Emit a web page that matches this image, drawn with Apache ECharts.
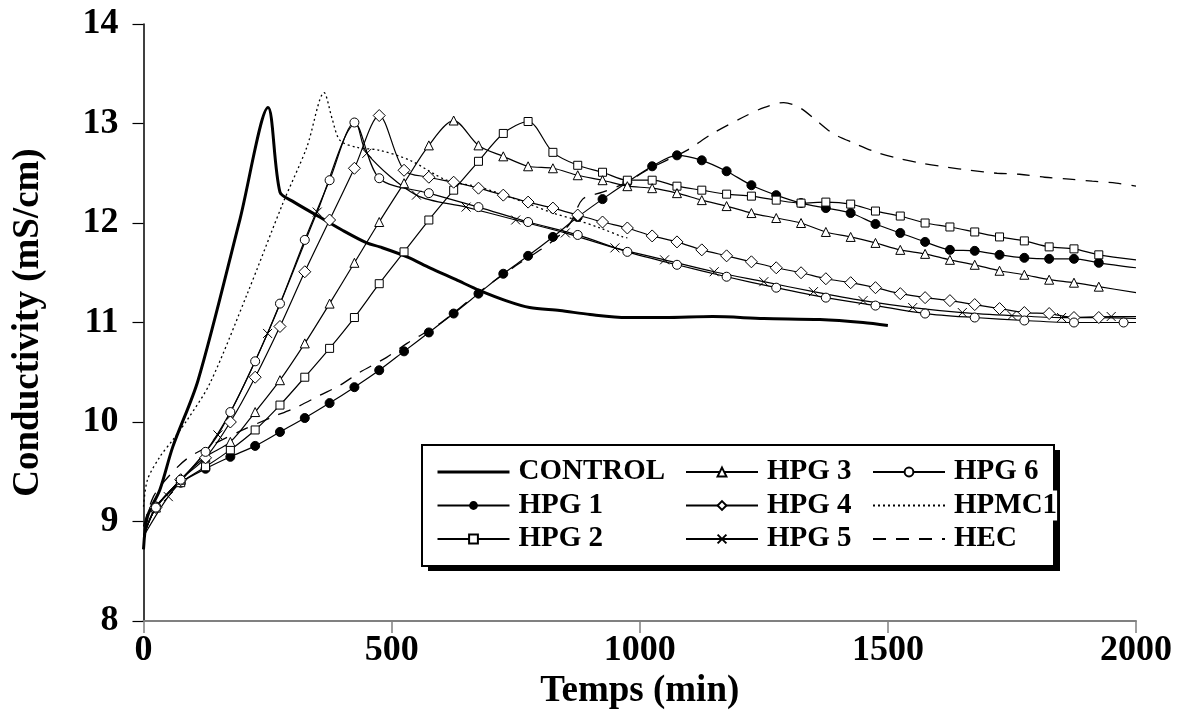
<!DOCTYPE html>
<html><head><meta charset="utf-8">
<script src="https://cdn.jsdelivr.net/npm/echarts@6/dist/echarts.min.js"></script>
<style>html,body{margin:0;padding:0;background:#fff}#c{width:1184px;height:716px}</style>
</head><body><div id="c"></div>
<script>
// ---- data (time in min, conductivity in mS/cm) ----
const xAxisName = 'Temps (min)';
const yAxisName = 'Conductivity (mS/cm)';

const control = [[0,8.72],[8,9.05],[33,9.32],[59,9.75],[110,10.42],[194,12.03],[251,13.16],[275,12.31],[300,12.22],[355,12.06],[400,11.93],[450,11.80],[476,11.76],[531,11.66],[577,11.55],[630,11.43],[678,11.32],[730,11.22],[778,11.15],[839,11.12],[900,11.08],[974,11.05],[1050,11.05],[1147,11.06],[1250,11.04],[1363,11.03],[1450,11.00],[1500,10.97]];

const hpg1Marked = [[25,9.15],[75,9.39],[125,9.53],[175,9.65],[225,9.76],[275,9.90],[325,10.04],[375,10.19],[425,10.35],[475,10.52],[525,10.71],[575,10.90],[625,11.09],[675,11.29],[725,11.49],[775,11.67],[825,11.86],[875,12.06],[925,12.24],[975,12.41],[1025,12.57],[1075,12.68],[1125,12.63],[1175,12.52],[1225,12.38],[1275,12.28],[1325,12.20],[1375,12.15],[1425,12.10],[1475,11.99],[1525,11.90],[1575,11.81],[1625,11.73],[1675,11.72],[1725,11.68],[1775,11.65],[1825,11.64],[1875,11.64],[1925,11.60]];
const hpg1Knots = [[0,8.85],[2000,11.55]];

const hpg2Marked = [[25,9.14],[75,9.39],[125,9.55],[175,9.72],[225,9.92],[275,10.17],[325,10.45],[375,10.74],[425,11.05],[475,11.39],[525,11.71],[575,12.03],[625,12.33],[675,12.62],[725,12.90],[775,13.02],[825,12.71],[875,12.58],[925,12.51],[975,12.43],[1025,12.43],[1075,12.37],[1125,12.33],[1175,12.29],[1225,12.27],[1275,12.23],[1325,12.20],[1375,12.21],[1425,12.19],[1475,12.12],[1525,12.07],[1575,12.00],[1625,11.96],[1675,11.91],[1725,11.86],[1775,11.82],[1825,11.76],[1875,11.74],[1925,11.68]];
const hpg2Knots = [[0,8.85],[2000,11.63]];

const hpg3Marked = [[25,9.14],[75,9.42],[125,9.65],[175,9.80],[225,10.10],[275,10.42],[325,10.79],[375,11.19],[425,11.60],[475,12.01],[525,12.40],[575,12.78],[625,13.03],[675,12.78],[725,12.67],[775,12.57],[825,12.55],[875,12.48],[925,12.43],[975,12.37],[1025,12.35],[1075,12.30],[1125,12.23],[1175,12.17],[1225,12.10],[1275,12.05],[1325,12.00],[1375,11.91],[1425,11.86],[1475,11.80],[1525,11.73],[1575,11.69],[1625,11.63],[1675,11.58],[1725,11.52],[1775,11.48],[1825,11.43],[1875,11.40],[1925,11.36]];
const hpg3Knots = [[0,8.85],[2000,11.30]];

const hpg4Marked = [[25,9.14],[75,9.42],[125,9.64],[175,10.00],[225,10.45],[275,10.96],[325,11.51],[375,12.03],[425,12.55],[475,13.08],[525,12.53],[575,12.46],[625,12.41],[675,12.35],[725,12.28],[775,12.21],[825,12.15],[875,12.08],[925,12.01],[975,11.95],[1025,11.87],[1075,11.81],[1125,11.73],[1175,11.67],[1225,11.61],[1275,11.55],[1325,11.50],[1375,11.44],[1425,11.40],[1475,11.35],[1525,11.29],[1575,11.25],[1625,11.22],[1675,11.18],[1725,11.14],[1775,11.10],[1825,11.09],[1875,11.05],[1925,11.05]];
const hpg4Knots = [[0,8.85],[2000,11.04]];

const hpg5Marked = [[50,9.25],[150,9.87],[250,10.89],[350,12.11],[450,12.70],[550,12.28],[650,12.16],[750,12.03],[850,11.90],[950,11.75],[1050,11.63],[1150,11.51],[1250,11.41],[1350,11.31],[1450,11.22],[1550,11.15],[1650,11.10],[1750,11.07],[1850,11.05],[1950,11.06]];
const hpg5Knots = [[0,8.85],[428,13.00],[2000,11.06]];

const hpg6Marked = [[25,9.14],[75,9.42],[125,9.70],[175,10.10],[225,10.61],[275,11.19],[325,11.83],[375,12.43],[425,13.01],[475,12.45],[575,12.30],[675,12.16],[775,12.01],[875,11.88],[975,11.71],[1075,11.58],[1175,11.46],[1275,11.35],[1375,11.25],[1475,11.17],[1575,11.09],[1675,11.05],[1775,11.02],[1875,11.00],[1975,11.00]];
const hpg6Knots = [[0,8.85],[2000,11.00]];

const hpmc1 = [[0,9.15],[8,9.42],[33,9.65],[59,9.82],[88,10.02],[134,10.39],[210,11.30],[281,12.20],[329,12.76],[364,13.31],[380,13.05],[396,12.83],[430,12.76],[476,12.73],[537,12.63],[611,12.43],[678,12.36],[772,12.20],[825,12.10],[873,12.03],[920,11.95],[966,11.86],[975,11.85]];

const hec = [[0,8.95],[20,9.25],[50,9.45],[90,9.64],[150,9.80],[200,9.92],[255,10.04],[309,10.15],[356,10.27],[396,10.37],[436,10.50],[490,10.65],[531,10.79],[600,11.00],[675,11.30],[750,11.57],[825,11.82],[860,12.00],[885,12.24],[925,12.31],[970,12.40],[1014,12.53],[1054,12.63],[1095,12.73],[1147,12.90],[1207,13.06],[1250,13.16],[1290,13.21],[1322,13.16],[1356,13.03],[1389,12.90],[1433,12.80],[1477,12.71],[1520,12.65],[1570,12.60],[1620,12.56],[1665,12.53],[1720,12.50],[1765,12.49],[1816,12.46],[1866,12.44],[1912,12.42],[1960,12.40],[2000,12.37]];

const legendCols = [['CONTROL','HPG 1','HPG 2'],['HPG 3','HPG 4','HPG 5'],['HPG 6','HPMC1','HEC']];

// ---- build ----
function build(marked, knots){
  const pts = marked.map(p => ({value: p})).concat(knots.map(p => ({value: p, symbol: 'none'})));
  pts.sort((a, b) => a.value[0] - b.value[0]);
  return pts;
}
const FONT = 'Liberation Serif';
const hollow = {color: '#fff', borderColor: '#000', borderWidth: 1};
const thin = {color: '#000', width: 1.2};
const noMark = {color: '#000', opacity: 0};
const X_PATH = 'path://M0,0L10,10M10,0L0,10';

function ser(name, data, extra){
  return Object.assign({
    name, type: 'line', data, smooth: 0.3, showAllSymbol: true,
    lineStyle: thin, symbol: 'none', silent: true, z: 2
  }, extra);
}

const series = [
  ser('CONTROL', control, {lineStyle: {color: '#000', width: 3}, itemStyle: noMark}),
  ser('HPG 1', build(hpg1Marked, hpg1Knots), {symbol: 'circle', symbolSize: 9, itemStyle: {color: '#000', borderColor: '#000'}}),
  ser('HPG 2', build(hpg2Marked, hpg2Knots), {symbol: 'rect', symbolSize: 8, itemStyle: hollow}),
  ser('HPG 3', build(hpg3Marked, hpg3Knots), {symbol: 'triangle', symbolSize: 9, itemStyle: hollow}),
  ser('HPG 4', build(hpg4Marked, hpg4Knots), {symbol: 'diamond', symbolSize: 12, itemStyle: hollow}),
  ser('HPG 5', build(hpg5Marked, hpg5Knots), {symbol: X_PATH, symbolSize: 9, itemStyle: {color: 'rgba(0,0,0,0)', borderColor: '#000', borderWidth: 1}}),
  ser('HPG 6', build(hpg6Marked, hpg6Knots), {symbol: 'circle', symbolSize: 9, itemStyle: hollow}),
  ser('HPMC1', hpmc1, {lineStyle: {color: '#000', width: 1.3, type: [2, 3]}, itemStyle: noMark}),
  ser('HEC', hec, {lineStyle: {color: '#000', width: 1.3, type: [13, 10]}, itemStyle: noMark})
];

const legendLeft = [436, 685, 872];
const legends = legendCols.map((cols, i) => ({
  data: cols.map(n => n === 'CONTROL' ? {name: n, lineStyle: {width: 3}} : {name: n}),
  orient: 'vertical', left: legendLeft[i], top: 457,
  itemWidth: 72, itemHeight: 11, itemGap: 3.5, padding: 0, selectedMode: false, z: 6,
  textStyle: {fontFamily: FONT, fontWeight: 'bold', fontSize: 29, color: '#000', lineHeight: 30,
    padding: [0, 0, 0, 4], backgroundColor: i === 2 ? '#fff' : 'transparent'}
}));

const labelStyle = {fontFamily: FONT, fontWeight: 'bold', fontSize: 36, color: '#000', formatter: v => String(v)};

const option = {
  animation: false,
  backgroundColor: '#fff',
  grid: {left: 143.5, right: 48, top: 24, bottom: 95, containLabel: false, outerBoundsMode: 'none'},
  xAxis: {
    type: 'value', min: 0, max: 2000, interval: 500,
    name: xAxisName, nameLocation: 'middle', nameGap: 52, nameMoveOverlap: false,
    nameTextStyle: {fontFamily: FONT, fontWeight: 'bold', fontSize: 37, color: '#000'},
    axisLine: {onZero: false, lineStyle: {color: '#808080', width: 2}},
    axisTick: {inside: false, length: 12, lineStyle: {color: '#808080', width: 1.5}},
    axisLabel: Object.assign({margin: 12}, labelStyle),
    splitLine: {show: false}
  },
  yAxis: {
    type: 'value', min: 8, max: 14, interval: 1,
    name: yAxisName, nameLocation: 'middle', nameGap: 97, nameRotate: 90, nameMoveOverlap: false,
    nameTextStyle: {fontFamily: FONT, fontWeight: 'bold', fontSize: 37, color: '#000'},
    axisLine: {show: true, onZero: false, lineStyle: {color: '#000', width: 1.5}},
    axisTick: {show: true, inside: false, length: 11, lineStyle: {color: '#000', width: 1.2}},
    axisLabel: Object.assign({margin: 25}, labelStyle),
    splitLine: {show: false}
  },
  legend: legends,
  graphic: [
    {type: 'rect', left: 428, top: 450, z: 3, shape: {width: 632, height: 121}, style: {fill: '#000'}},
    {type: 'rect', left: 421, top: 444, z: 4, shape: {width: 632, height: 121}, style: {fill: '#fff', stroke: '#000', lineWidth: 2}}
  ],
  series
};

const chart = echarts.init(document.getElementById('c'), null, {renderer: 'canvas'});
chart.setOption(option);
</script>
</body></html>
